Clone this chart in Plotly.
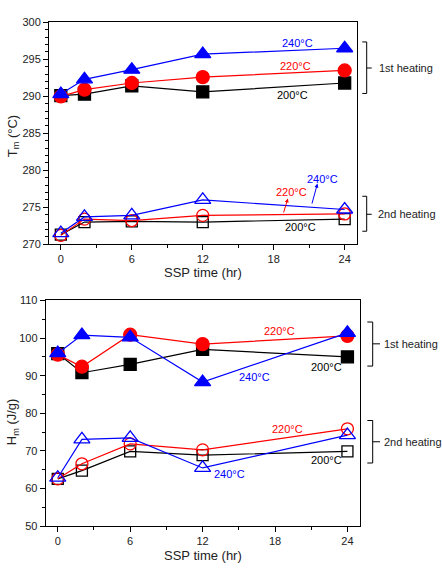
import plotly.graph_objects as go

W, H = 442, 578

# ---------------- data ----------------
ssp_time = [0, 2, 6, 12, 24]

# Tm (top panel)
tm_1st_200 = [290.1, 290.3, 291.4, 290.6, 291.8]
tm_1st_220 = [290.0, 290.9, 291.8, 292.6, 293.5]
tm_1st_240 = [290.3, 292.3, 293.6, 295.7, 296.5]
tm_2nd_200 = [271.3, 273.0, 273.1, 273.0, 273.4]
tm_2nd_220 = [271.2, 273.4, 273.2, 273.9, 274.1]
tm_2nd_240 = [271.5, 273.7, 273.9, 276.0, 274.7]

# Hm (bottom panel)
hm_1st_200 = [95.9, 90.8, 93.0, 97.0, 95.0]
hm_1st_220 = [95.6, 92.4, 100.9, 98.4, 100.6]
hm_1st_240 = [96.0, 100.8, 100.2, 88.3, 101.4]
hm_2nd_200 = [62.6, 64.8, 69.9, 68.9, 69.9]
hm_2nd_220 = [62.6, 66.6, 71.9, 70.3, 75.9]
hm_2nd_240 = [62.9, 73.1, 73.5, 65.5, 74.2]

x_ticks = [0, 6, 12, 18, 24]
top_y_ticks = [270, 275, 280, 285, 290, 295, 300]
bot_y_ticks = [50, 60, 70, 80, 90, 100, 110]

BLACK, RED, BLUE = "#000000", "#ff0000", "#0000ff"
FONT = "Arial, Liberation Sans, sans-serif"


def px(x):
    return x / W


def py(y):
    return 1 - y / H


fig = go.Figure()


def add_series(xa, ya, yvals, color, symbol, size):
    fig.add_trace(go.Scatter(
        x=ssp_time, y=yvals, xaxis=xa, yaxis=ya, mode="lines+markers",
        line=dict(color=color, width=1.2),
        marker=dict(color=color, symbol=symbol, size=size,
                    line=dict(color=color, width=1.3)),
        showlegend=False, cliponaxis=False))


# top panel
add_series("x", "y", tm_1st_200, BLACK, "square", 12)
add_series("x", "y", tm_1st_220, RED, "circle", 13)
add_series("x", "y", tm_1st_240, BLUE, "triangle-up", 14)
add_series("x", "y", tm_2nd_200, BLACK, "square-open", 11)
add_series("x", "y", tm_2nd_220, RED, "circle-open", 12)
add_series("x", "y", tm_2nd_240, BLUE, "triangle-up-open", 14)
# bottom panel
add_series("x2", "y2", hm_1st_200, BLACK, "square", 12)
add_series("x2", "y2", hm_1st_220, RED, "circle", 13)
add_series("x2", "y2", hm_1st_240, BLUE, "triangle-up", 14)
add_series("x2", "y2", hm_2nd_200, BLACK, "square-open", 11)
add_series("x2", "y2", hm_2nd_220, RED, "circle-open", 12)
add_series("x2", "y2", hm_2nd_240, BLUE, "triangle-up-open", 14)

axis_common = dict(
    showline=True, linecolor="#000", linewidth=1, mirror=True,
    ticks="outside", ticklen=5, tickwidth=1, tickcolor="#000",
    showgrid=False, zeroline=False,
    tickfont=dict(family=FONT, size=11, color="#222"),
)

fig.update_layout(
    width=W, height=H, margin=dict(l=0, r=0, t=0, b=0),
    paper_bgcolor="white", plot_bgcolor="white",
    xaxis=dict(domain=[px(49), px(356.5)], range=[-1, 25], anchor="y",
               tickvals=x_ticks, minor=dict(dtick=3, tick0=0, ticks="outside", ticklen=3, tickcolor="#000"),
               **axis_common),
    yaxis=dict(domain=[py(243.3), py(16.7)], range=[270, 300], anchor="x",
               tickvals=top_y_ticks, minor=dict(dtick=1, tick0=270, ticks="outside", ticklen=3, tickcolor="#000"),
               **axis_common),
    xaxis2=dict(domain=[px(45.7), px(359.5)], range=[-1, 25], anchor="y2",
                tickvals=x_ticks, minor=dict(dtick=3, tick0=0, ticks="outside", ticklen=3, tickcolor="#000"),
                **axis_common),
    yaxis2=dict(domain=[py(531.3), py(300.7)], range=[50, 110], anchor="x2",
                tickvals=bot_y_ticks, minor=dict(dtick=5, tick0=50, ticks="outside", ticklen=3, tickcolor="#000"),
                **axis_common),
)

ann = []


def label(text, x, y, color, xref="x", yref="y", size=11):
    ann.append(dict(text=text, x=x, y=y, xref=xref, yref=yref, showarrow=False,
                    font=dict(family=FONT, size=size, color=color),
                    xanchor="center", yanchor="middle"))


# top panel labels
label("240°C", 20.0, 297.2, BLUE)
label("220°C", 19.8, 294.1, RED)
label("200°C", 19.6, 290.2, BLACK)
label("240°C", 22.1, 278.8, BLUE)
label("220°C", 19.5, 277.0, RED)
label("200°C", 20.3, 272.3, BLACK)
# bottom panel labels
label("220°C", 18.4, 101.8, RED, "x2", "y2")
label("200°C", 22.3, 92.4, BLACK, "x2", "y2")
label("240°C", 16.3, 89.6, BLUE, "x2", "y2")
label("220°C", 19.0, 75.9, RED, "x2", "y2")
label("200°C", 22.3, 67.5, BLACK, "x2", "y2")
label("240°C", 14.2, 63.9, BLUE, "x2", "y2")

# small arrows from lines to labels (top panel, 2nd heating)
for (x0, y0, x1, y1, c) in [(18.8, 274.1, 19.2, 276.2, RED), (21.2, 275.3, 21.7, 278.2, BLUE)]:
    ann.append(dict(text="", x=x1, y=y1, ax=x0, ay=y0, xref="x", yref="y",
                    axref="x", ayref="y", showarrow=True, arrowhead=2,
                    arrowsize=0.8, arrowwidth=1, arrowcolor=c))

# axis titles
def title(text, x, y, angle=0):
    ann.append(dict(text=text, x=px(x), y=py(y), xref="paper", yref="paper",
                    showarrow=False, textangle=angle,
                    font=dict(family=FONT, size=13, color="#222"),
                    xanchor="center", yanchor="middle"))


title("SSP time (hr)", 202.5, 272.3)
title("SSP time (hr)", 203, 560.7)
title("T<sub>m</sub> (°C)", 13, 133, -90)
title("H<sub>m</sub> (J/g)", 12, 425, -90)

# brackets and heating labels
shapes = []


def bracket(xv, y0, y1, xl, xt, ym, text, xtext):
    path = (f"M {px(xl)},{py(y0)} L {px(xv)},{py(y0)} L {px(xv)},{py(y1)} L {px(xl)},{py(y1)} "
            f"M {px(xv)},{py(ym)} L {px(xt)},{py(ym)}")
    shapes.append(dict(type="path", path=path, xref="paper", yref="paper",
                       line=dict(color="#000", width=1)))
    ann.append(dict(text=text, x=px(xtext), y=py(ym), xref="paper", yref="paper",
                    showarrow=False, xanchor="left", yanchor="middle",
                    font=dict(family=FONT, size=11, color="#222")))


bracket(366.7, 36.7, 89.3, 362.3, 371.7, 63.3, "1st heating", 376.5)
bracket(366.7, 194.3, 230.0, 362.3, 371.7, 212.7, "2nd heating", 376.0)
bracket(372.7, 322.7, 367.7, 367.3, 380.0, 345.0, "1st heating", 382.0)
bracket(372.7, 423.3, 466.7, 367.3, 380.0, 445.0, "2nd heating", 381.5)

fig.update_layout(annotations=ann, shapes=shapes)

fig.write_html("out.html", config={"displayModeBar": False},
               post_script="document.body.style.margin='0';document.body.style.overflow='hidden';")
